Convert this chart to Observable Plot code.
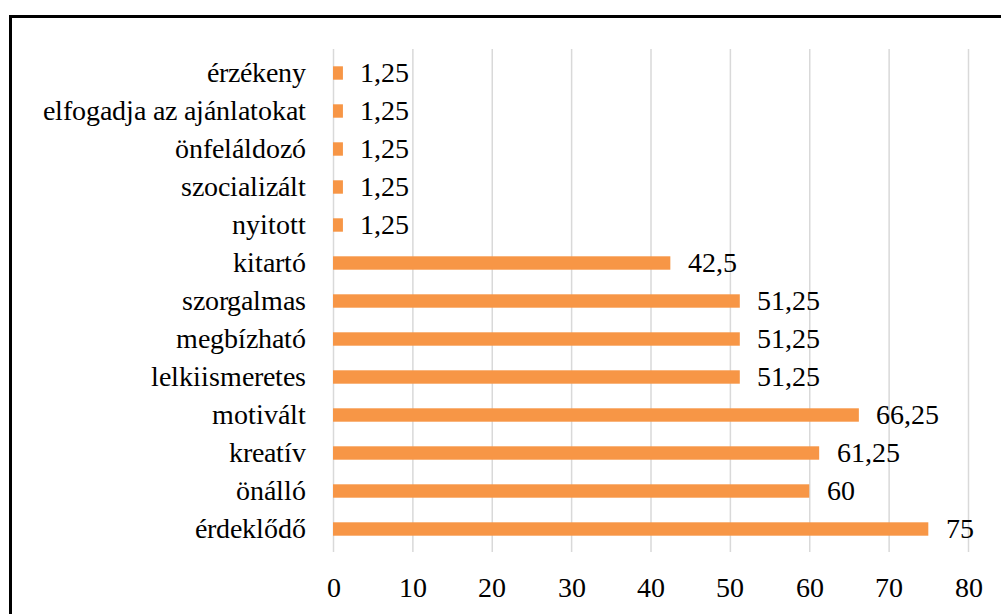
<!DOCTYPE html>
<html>
<head>
<meta charset="utf-8">
<script src="https://cdn.jsdelivr.net/npm/d3@7"></script>
<script src="https://cdn.jsdelivr.net/npm/@observablehq/plot@0.6"></script>
<style>
  @font-face { font-family: "ChartSerif"; src: local("Liberation Serif"), local("LiberationSerif"), local("Liberation Serif Regular"), local("Times New Roman"), local("Tinos"); }
  html, body { margin: 0; padding: 0; background: #fff; overflow: hidden; }
  #frame { position: absolute; left: 9px; top: 15px; width: 1100px; height: 700px;
           border: 3px solid #000; box-sizing: border-box; }
  svg text { font-family: "ChartSerif", "Liberation Serif", "Times New Roman", serif !important; font-size: 28px !important; }
</style>
</head>
<body>
<div id="frame"></div>
<script>
const categories = [
  "érzékeny",
  "elfogadja az ajánlatokat",
  "önfeláldozó",
  "szocializált",
  "nyitott",
  "kitartó",
  "szorgalmas",
  "megbízható",
  "lelkiismeretes",
  "motivált",
  "kreatív",
  "önálló",
  "érdeklődő"
];
const values = [1.25, 1.25, 1.25, 1.25, 1.25, 42.5, 51.25, 51.25, 51.25, 66.25, 61.25, 60, 75];
const xTicks = [0, 10, 20, 30, 40, 50, 60, 70, 80];

const data = categories.map((c, i) => ({category: c, value: values[i]}));
const fmt = v => String(v).replace(".", ",");
const serif = "ChartSerif, Liberation Serif, Times New Roman, serif";

const chart = Plot.plot({
  width: 1001,
  height: 614,
  marginLeft: 333,
  marginRight: 33,
  marginTop: 49,
  marginBottom: 62,
  style: {fontFamily: serif, color: "#000", background: "transparent", position: "absolute", left: "0px", top: "0px"},
  x: {domain: [0, 80], label: null},
  y: {domain: categories, padding: 0, label: null},
  marks: [
    Plot.gridX(xTicks, {stroke: "#d9d9d9", strokeOpacity: 1, strokeWidth: 1.5}),
    Plot.barX(data, {x: "value", y: "category", fill: "#F79646", insetTop: 12.3, insetBottom: 12.3}),
    Plot.text(data, {x: "value", y: "category", text: d => fmt(d.value), textAnchor: "start", dx: 17, fill: "#000"}),
    Plot.axisX(xTicks, {tickSize: 0, tickPadding: 25, label: null, fontVariant: "normal"}),
    Plot.axisY({tickSize: 0, tickPadding: 28, label: null})
  ]
});
chart.setAttribute("font-family", serif);
chart.removeAttribute("font-size");
document.body.appendChild(chart);
</script>
</body>
</html>
